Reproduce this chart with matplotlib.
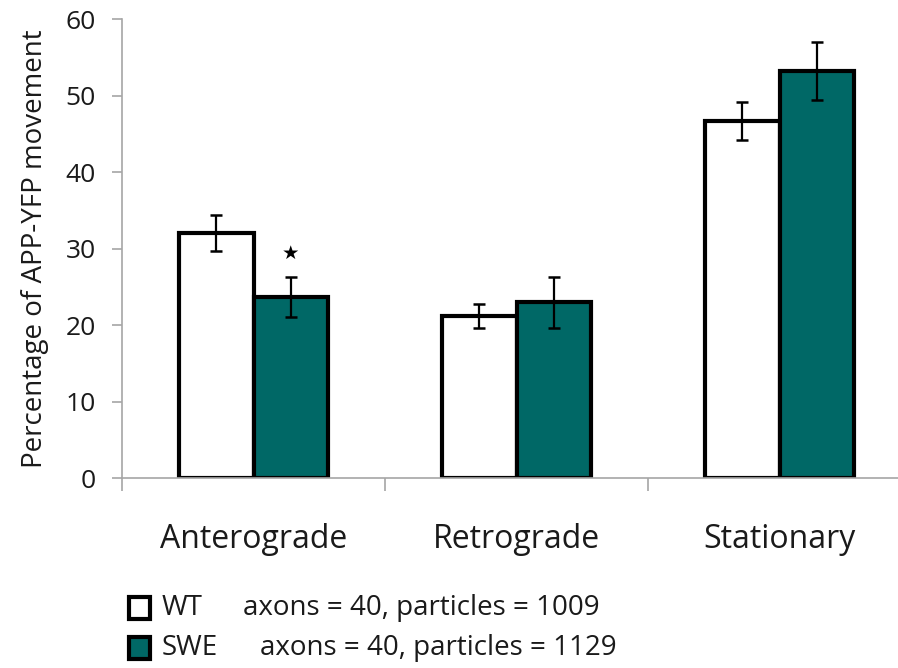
import matplotlib
matplotlib.use("Agg")
import matplotlib.pyplot as plt
from matplotlib.patches import Rectangle
import numpy as np

categories = ["Anterograde", "Retrograde", "Stationary"]
wt_values = [32.1, 21.2, 46.7]
wt_errors = [2.35, 1.6, 2.5]
swe_values = [23.7, 23.0, 53.2]
swe_errors = [2.6, 3.3, 3.8]
star_value = 29.4
y_ticks = [0, 10, 20, 30, 40, 50, 60]
legend_names = ["WT", "SWE"]
legend_notes = ["axons = 40, particles = 1009", "axons = 40, particles = 1129"]

plt.rcParams['font.family'] = ['Open Sans', 'DejaVu Sans']
teal = '#006866'
gray = '#a6a6a6'
txt = '#1a1a1a'

fig = plt.figure(figsize=(8.98, 6.68), dpi=100)
ax = fig.add_axes([122/898, (668-478.3)/668, 1 - 122/898 + 0.02, (478.3-19.3)/668])

x = np.arange(len(categories))
w = 0.285
ax.bar(x - w/2, wt_values, w, color='white', edgecolor='black', linewidth=3, zorder=2)
ax.bar(x + w/2, swe_values, w, color=teal, edgecolor='black', linewidth=3, zorder=2)
ax.errorbar(x - w/2, wt_values, yerr=wt_errors, fmt='none', ecolor='black',
            elinewidth=1.6, capsize=4.3, capthick=1.8, zorder=3)
ax.errorbar(x + w/2, swe_values, yerr=swe_errors, fmt='none', ecolor='black',
            elinewidth=1.6, capsize=4.3, capthick=1.8, zorder=3)
ax.text(x[0] + w/2, star_value, '★', ha='center', va='center', fontsize=14,
        family='DejaVu Sans', zorder=4)

ax_w_px = 898 * (1 - 122/898 + 0.02)
ax.set_xlim(-0.5, -0.5 + ax_w_px / 263)
ax.set_ylim(0, 60)
ax.set_yticks(y_ticks)
ax.set_yticklabels([str(v) for v in y_ticks], fontsize=19, color=txt)
ax.set_xticks([-0.5, 0.5, 1.5, 2.5])
ax.set_xticklabels([])
ax.set_xticks(x, minor=True)
ax.set_xticklabels(categories, minor=True, fontsize=23, color=txt)
ax.tick_params(axis='x', which='minor', length=0, pad=32)
ax.tick_params(axis='x', which='major', length=9, color=gray, width=1.2)
ax.tick_params(axis='y', length=7, color=gray, width=1.2, pad=12)
for s in ['top', 'right']:
    ax.spines[s].set_visible(False)
for s in ['left', 'bottom']:
    ax.spines[s].set_color(gray)
    ax.spines[s].set_linewidth(1.2)
ax.set_ylabel('Percentage of APP-YFP movement', fontsize=20, labelpad=12, color=txt)

# legend
rows_y = [608, 648]
note_x = [243, 260]
for i, (name, note) in enumerate(zip(legend_names, legend_notes)):
    yc = rows_y[i]
    face = 'white' if i == 0 else teal
    fig.patches.append(Rectangle((129/898, 1 - (yc + 11)/668), 21/898, 22/668,
                                 transform=fig.transFigure, facecolor=face,
                                 edgecolor='black', linewidth=3))
    fig.text(162/898, 1 - yc/668, name, ha='left', va='center', fontsize=20, color=txt)
    fig.text(note_x[i]/898, 1 - yc/668, note, ha='left', va='center', fontsize=20, color=txt)

fig.savefig('out.png', dpi=100)
